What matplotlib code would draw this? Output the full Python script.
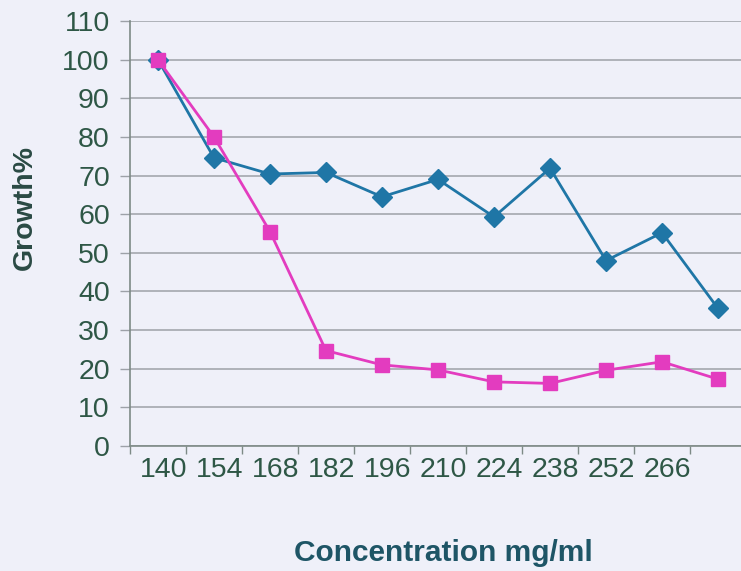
import matplotlib
matplotlib.use('Agg')
import matplotlib.pyplot as plt
from matplotlib.transforms import ScaledTranslation
import numpy as np

# 浓度类别(最后一个点没有刻度标签)
concentrations = ['140', '154', '168', '182', '196', '210', '224', '238', '252', '266', '']
growth_blue = [100, 74.6, 70.4, 70.8, 64.5, 69.0, 59.3, 71.9, 48.0, 55.2, 35.6]
growth_pink = [100, 80.0, 55.5, 24.7, 21.0, 19.7, 16.6, 16.2, 19.6, 21.8, 17.3]
yticks = list(range(0, 111, 10))

plt.rcParams['font.family'] = ['Liberation Sans', 'DejaVu Sans']
bg = '#eff0f9'
tickColor = '#2e5746'
labelColor = '#1e5566'

fig = plt.figure(figsize=(7.41, 5.71), dpi=100, facecolor=bg)
ax = fig.add_axes([0.1754, 0.2189, 0.8246, 0.7443])
ax.set_facecolor(bg)

x = np.arange(len(concentrations))
ax.plot(x, growth_blue, color='#1f76a6', lw=2, marker='D', ms=10, zorder=3)
ax.plot(x, growth_pink, color='#e33cbf', lw=2, marker='s', ms=10.5, zorder=4)

ax.set_xlim(-0.5, 10.41)
ax.set_ylim(0, 110)
ax.set_yticks(yticks)
ax.yaxis.grid(True, color='#9da1a8', lw=1.1)
ax.set_axisbelow(True)

# 标签位于类别中心, 刻度线位于类别边界
ax.set_xticks(x)
ax.set_xticklabels(concentrations)
ax.set_xticks(np.arange(-0.5, 10.5, 1.0), minor=True)
ax.tick_params(axis='x', which='major', length=0, pad=8, labelsize=20.5, labelcolor=tickColor)
ax.tick_params(axis='x', which='minor', length=6, width=1, color='#7d8a86', direction='out')
ax.tick_params(axis='y', length=7.5, width=1, color='#9da1a8', pad=7, labelsize=20.5, labelcolor=tickColor)
for lbl in ax.get_xticklabels():
    lbl.set_transform(lbl.get_transform() + ScaledTranslation(4/72, 0, fig.dpi_scale_trans))

for s in ['top', 'right']:
    ax.spines[s].set_visible(False)
for s in ['left', 'bottom']:
    ax.spines[s].set_color('#7d8a86')
    ax.spines[s].set_linewidth(1.2)

fig.text(0.598, 0.031, 'Concentration mg/ml', ha='center', va='center',
         fontsize=21.5, fontweight='bold', color=labelColor)
fig.text(0.034, 0.636, 'Growth%', ha='center', va='center', rotation=90,
         fontsize=20.5, fontweight='bold', color='#2a4a44')

fig.savefig('out.png', dpi=100, facecolor=bg)
